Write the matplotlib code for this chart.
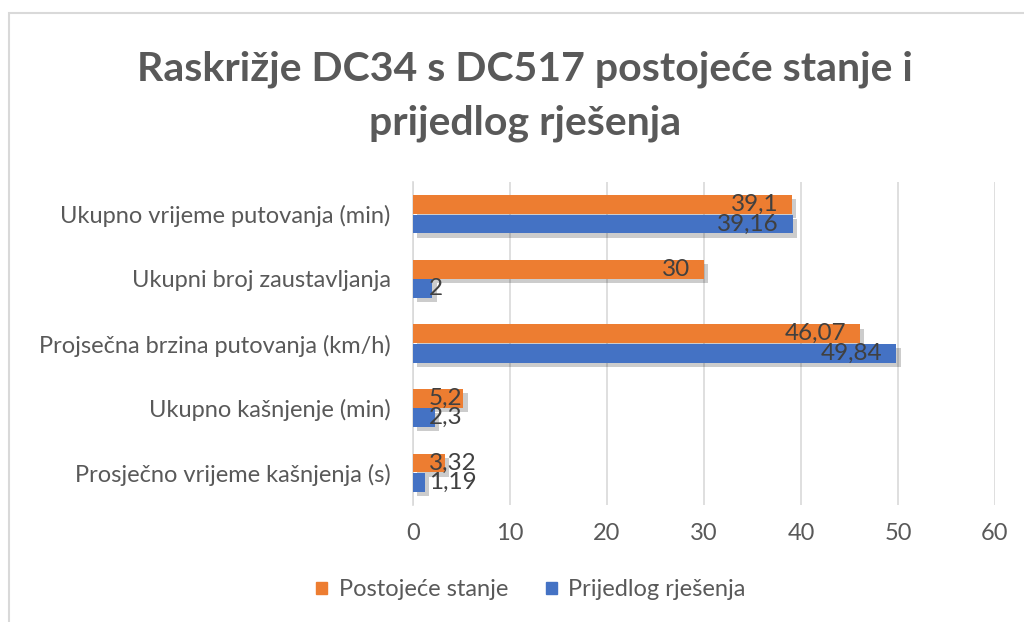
import numpy as np
import matplotlib.pyplot as plt
import matplotlib.patheffects as pe
from matplotlib.patches import Rectangle, Patch

plt.rcParams['font.family'] = ['Lato', 'DejaVu Sans']

categories = ['Ukupno vrijeme putovanja (min)',
              'Ukupni broj zaustavljanja',
              'Projsečna brzina putovanja (km/h)',
              'Ukupno kašnjenje (min)',
              'Prosječno vrijeme kašnjenja (s)']
postojece = [39.1, 30, 46.07, 5.2, 3.32]
prijedlog = [39.16, 2, 49.84, 2.3, 1.19]
lab_post = ['39,1', '30', '46,07', '5,2', '3,32']
lab_prij = ['39,16', '2', '49,84', '2,3', '1,19']
xticks = [0, 10, 20, 30, 40, 50, 60]
title_lines = ['Raskrižje DC34 s DC517 postojeće stanje i', 'prijedlog rješenja']

orange = '#ED7D31'
blue = '#4472C4'
gray = '#595959'

fig = plt.figure(figsize=(10.24, 6.22), dpi=100)
fig.patches.append(Rectangle((9/1024, -0.1), 1.2, 1 - 13/622 + 0.1,
                             transform=fig.transFigure, fill=False,
                             edgecolor='#D9D9D9', linewidth=1.5))

ax = fig.add_axes([413/1024, 1 - 505/622, 582/1024, 323/622])

y = np.arange(len(categories))[::-1]
h = 0.29
shadow = [pe.SimplePatchShadow(offset=(3, -3), shadow_rgbFace='k', alpha=0.2), pe.Normal()]
b1 = ax.barh(y + h/2 + 0.005, postojece, height=h, color=orange, zorder=3)
b2 = ax.barh(y - h/2 - 0.005, prijedlog, height=h, color=blue, zorder=3)
for b in list(b1) + list(b2):
    b.set_path_effects(shadow)

# labels: inside end for long bars, pushed to a minimum position for short ones
for vals, labs, dy in [(postojece, lab_post, h/2 + 0.005), (prijedlog, lab_prij, -h/2 - 0.005)]:
    for yi, v, s in zip(y, vals, labs):
        if v >= 10:
            ax.annotate(s, (v, yi + dy), xytext=(-10, 0), textcoords='offset points',
                        ha='right', va='center', fontsize=17.5, color='#404040', zorder=4)
        else:
            ax.text(1.65, yi + dy, s, ha='left', va='center',
                    fontsize=17.5, color='#404040', zorder=4)

ax.set_xlim(0, 60)
ax.set_ylim(-0.5, 4.5)
ax.set_xticks(xticks)
ax.set_yticks(y)
ax.set_yticklabels(categories)
ax.tick_params(axis='both', length=0, labelsize=17, labelcolor=gray)
ax.tick_params(axis='x', pad=13)
ax.tick_params(axis='y', pad=16)
ax.grid(axis='x', color='#D9D9D9', linewidth=1.2, zorder=0)
for s in ['top', 'right', 'bottom']:
    ax.spines[s].set_visible(False)
ax.spines['left'].set_color('#D9D9D9')
ax.spines['left'].set_linewidth(1.2)

for line, base in zip(title_lines, [80, 135]):
    fig.text(525/1024, 1 - base/622, line, ha='center', va='baseline',
             fontsize=29.5, fontweight='bold', color=gray)

handles = [Patch(color=orange), Patch(color=blue)]
fig.legend(handles=handles, labels=['Postojeće stanje', 'Prijedlog rješenja'],
           loc='center', bbox_to_anchor=(531/1024, 1 - 590/622), ncol=2, frameon=False,
           fontsize=17, labelcolor=gray, handlelength=0.45, handleheight=0.45,
           columnspacing=1.6, handletextpad=0.5)

fig.savefig('out.png', dpi=100, facecolor='white')
